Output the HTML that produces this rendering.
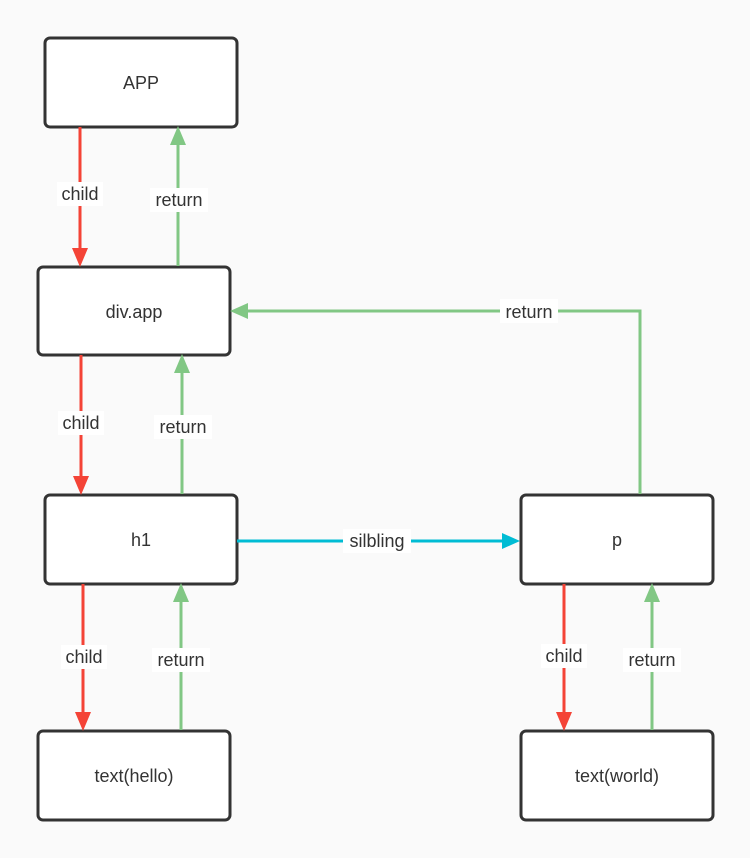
<!DOCTYPE html><html><head><style>body{margin:0;background:#fafafa}svg{display:block}text{font-family:"Liberation Sans",sans-serif;font-size:18px;fill:#333}</style></head><body>
<svg width="750" height="858" viewBox="0 0 750 858">
<rect width="750" height="858" fill="#fafafa"/>
<g fill="#fff" stroke="#333" stroke-width="3">
<rect x="45" y="38" width="192" height="89" rx="5"/>
<rect x="38" y="267" width="192" height="88" rx="5"/>
<rect x="45" y="495" width="192" height="89" rx="5"/>
<rect x="521" y="495" width="192" height="89" rx="5"/>
<rect x="38" y="731" width="192" height="89" rx="5"/>
<rect x="521" y="731" width="192" height="89" rx="5"/>
</g>
<g text-anchor="middle">
<text x="141" y="89">APP</text><text x="134" y="318">div.app</text><text x="141" y="546">h1</text><text x="617" y="546">p</text><text x="134" y="782">text(hello)</text><text x="617" y="782">text(world)</text>
</g>
<g stroke-width="3" fill="none">
<path d="M80 127V250M81 355V478M83 584V714M564 584V714" stroke="#f44336"/>
<path d="M178 266V143M182 494V371M181 730V600M652 730V600M640 494V311H246" stroke="#81c784"/>
<path d="M237 541H504" stroke="#00bcd4"/>
</g>
<g fill="#f44336"><path d="M72 248h16l-8 19z"/><path d="M73 476h16l-8 19z"/><path d="M75 712h16l-8 19z"/><path d="M556 712h16l-8 19z"/></g>
<g fill="#81c784"><path d="M170 145h16l-8-19z"/><path d="M174 373h16l-8-19z"/><path d="M173 602h16l-8-19z"/><path d="M644 602h16l-8-19z"/><path d="M248 303v16l-18-8z"/></g>
<path d="M502 533v16l18-8z" fill="#00bcd4"/>
<g fill="#fff"><rect x="57" y="182" width="46" height="24"/><rect x="150" y="188" width="58" height="24"/><rect x="58" y="411" width="46" height="24"/><rect x="154" y="415" width="58" height="24"/><rect x="61" y="645" width="46" height="24"/><rect x="152" y="648" width="58" height="24"/><rect x="541" y="644" width="46" height="24"/><rect x="623" y="648" width="58" height="24"/><rect x="500" y="299" width="58" height="24"/><rect x="343" y="529" width="68" height="24"/></g>
<g text-anchor="middle">
<text x="80" y="200">child</text><text x="179" y="206">return</text><text x="81" y="429">child</text><text x="183" y="433">return</text><text x="84" y="663">child</text><text x="181" y="666">return</text><text x="564" y="662">child</text><text x="652" y="666">return</text><text x="529" y="318">return</text><text x="377" y="547">silbling</text>
</g>
</svg></body></html>
